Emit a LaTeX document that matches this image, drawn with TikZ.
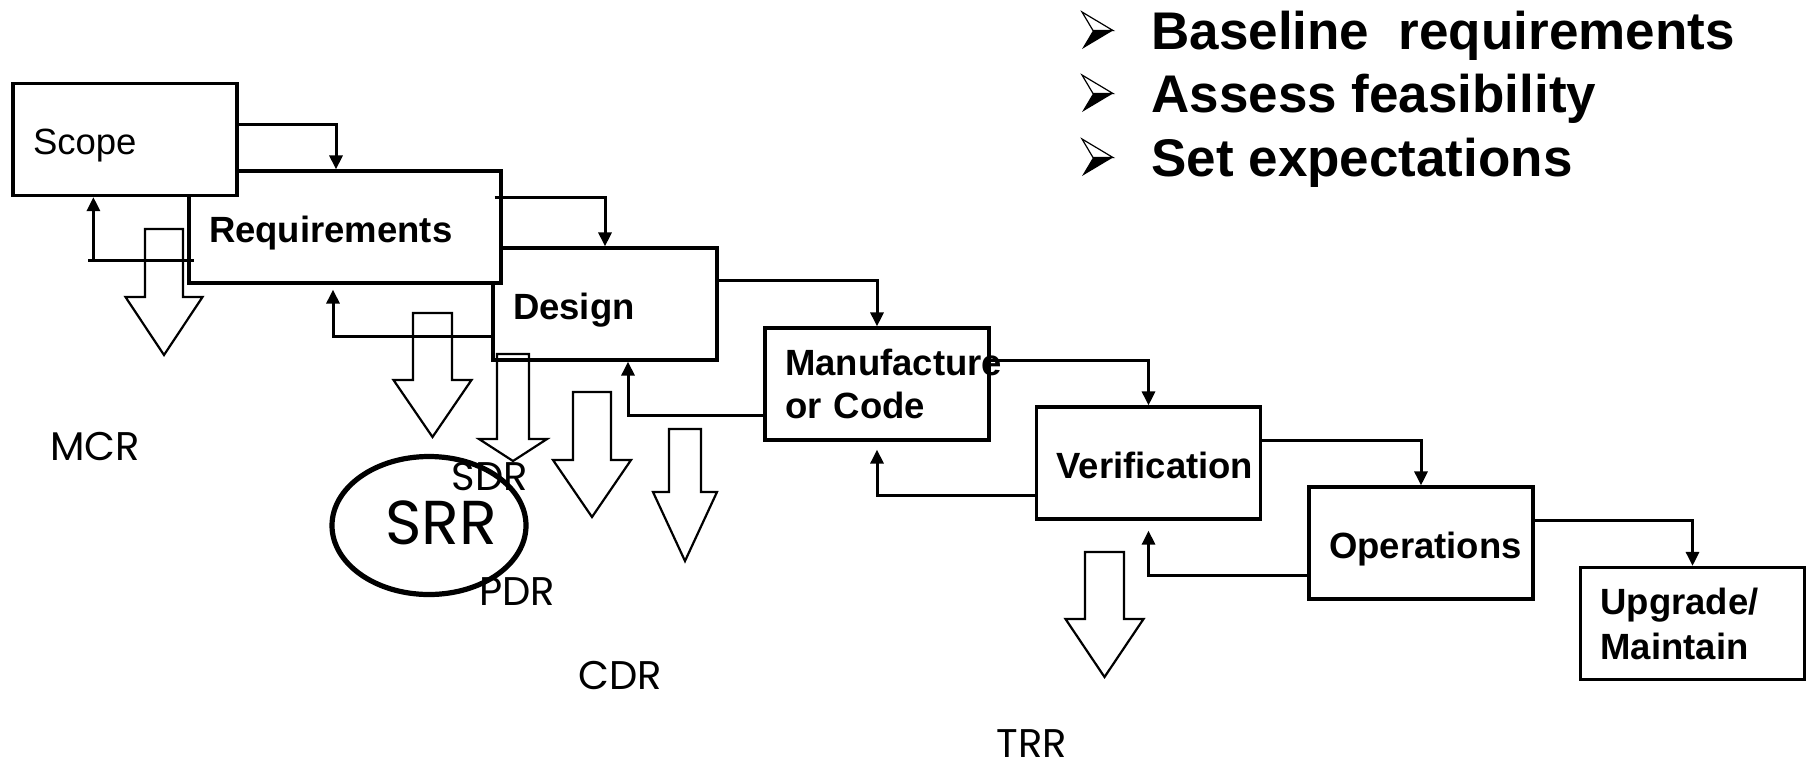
\documentclass[tikz,border=0pt]{standalone}
\usepackage{fontspec}
\setmainfont{Liberation Sans}
\newfontfamily\geofont{Poppins}
\usetikzlibrary{arrows.meta}

\tikzset{
	phase/.style={draw, fill=white, line width=1.6pt, minimum height=56pt, text width=92pt,
		inner xsep=10pt, inner ysep=0pt, align=left,
		execute at begin node={\hyphenpenalty=10000\relax},
		font=\bfseries\fontsize{18.25}{21.5}\selectfont},
	single/.style={text height=15pt, text depth=0pt},
	conn/.style={line width=1.5pt},
	hollow/.style={draw, line width=1.1pt},
	review/.style={inner sep=0pt, font=\geofont\fontsize{20}{22}\selectfont},
	goal/.style={inner sep=0pt, anchor=base west, font=\bfseries\fontsize{26.5}{32}\selectfont}
}

\begin{document}
\begin{tikzpicture}
		[
		x=0.5pt, y=-0.5pt, >={Triangle[length=7pt,width=6.5pt]}
		%Pixelraster, y nach unten
		]
		
		\useasboundingbox (0,0) rectangle (1814,767);
		
		%Phasen (hinten nach vorne)
		\node [phase, single] (design) at (605,304) {Design};
		\node [phase, single, text width=136pt] (req) at (345,227) {Requirements};
		\node [phase, single, font=\fontsize{18.25}{21.5}\selectfont] (scope) at (125,139.5) {Scope};
		\node [phase] (manu) at (877,384) {Manufacture\\or Code};
		\node [phase, single] (verif) at (1148.5,463) {Verification};
		\node [phase, single] (ops) at (1421,543) {Operations};
		\node [phase, font=\bfseries\fontsize{18.25}{22.5}\selectfont] (upg) at (1692.5,623.5) {Upgrade/\\Maintain};
		
		%Pfeile vorwaerts
		\draw [conn, ->] ([yshift=7.75pt]scope.east) -| ([xshift=-4.5pt]req.north);
		\draw [conn, ->] ([xshift=-4pt, yshift=15pt]req.east) -| (design.north);
		\draw [conn, ->] ([yshift=12pt]design.east) -| (manu.north);
		\draw [conn, ->] ([yshift=12pt]manu.east) -| (verif.north);
		\draw [conn, ->] ([yshift=11.5pt]verif.east) -| (ops.north);
		\draw [conn, ->] ([yshift=11.5pt]ops.east) -| (upg.north);
		
		%Pfeile zurueck
		\coordinate (rs) at ([xshift=-47pt, yshift=-16.5pt]req.west);
		\draw [conn] ([xshift=-2.5pt]rs) -- ([xshift=50.5pt]rs);
		\draw [conn, ->] (rs) -- (rs |- scope.south);
		\draw [conn, ->, shorten >=2.5pt] ([yshift=-16pt]design.west) -| ([xshift=-6pt]req.south);
		\draw [conn, ->] ([yshift=-15.5pt]manu.west) -| ([xshift=11.5pt]design.south);
		\draw [conn, ->, shorten >=4pt] ([yshift=-16pt]verif.west) -| (manu.south);
		\draw [conn, ->, shorten >=5pt] ([yshift=-16pt]ops.west) -| (verif.south);
		
		%Blockpfeile: Mitte/oben/Schaft/Kopf/Kopfansatz/Spitze
		\foreach \cx/\yt/\sw/\hw/\yb/\ys in {164/229/38/77/297/355, 432.5/313/39/78/380/437,
			513/354/32/68/439/461, 592/392/38/78/460/517, 685/429/32/64/492/561, 1104.5/552/39/78/619/677}
		\draw [hollow] (\cx-\sw/2,\yt) -- (\cx+\sw/2,\yt) -- (\cx+\sw/2,\yb) -- (\cx+\hw/2,\yb)
			-- (\cx,\ys) -- (\cx-\hw/2,\yb) -- (\cx-\sw/2,\yb) -- cycle;
		
		%Reviews
		\draw [line width=2.6pt] (429,525.5) ellipse [x radius=48.5pt, y radius=34.5pt];
		\node [review, font=\geofont\fontsize{31}{34}\selectfont] (srr) at (441,523) {SRR};
		\node [review] (mcr) at (95,446) {MCR};
		\node [review] (sdr) at (490,477) {SDR};
		\node [review] (pdr) at (517,592) {PDR};
		\node [review] (cdr) at (620,675) {CDR};
		\node [review] (trr) at (1032,744) {TRR};
		
		%Ziele mit Aufzaehlungspfeilen
		\foreach \yb/\txt [count=\i] in {49/{Baseline\ \ requirements}, 112/{Assess feasibility}, 176/{Set expectations}}
		{
			\draw [line width=0.6pt, fill=white] (1082,\yb-37) -- (1113,\yb-18.5) -- (1093,\yb-18.5) -- cycle;
			\fill (1093,\yb-18.5) -- (1113,\yb-18.5) -- (1082,\yb) -- cycle;
			\node [goal] (goal\i) at (1151,\yb) {\txt};
		}
	\end{tikzpicture}
\end{document}
